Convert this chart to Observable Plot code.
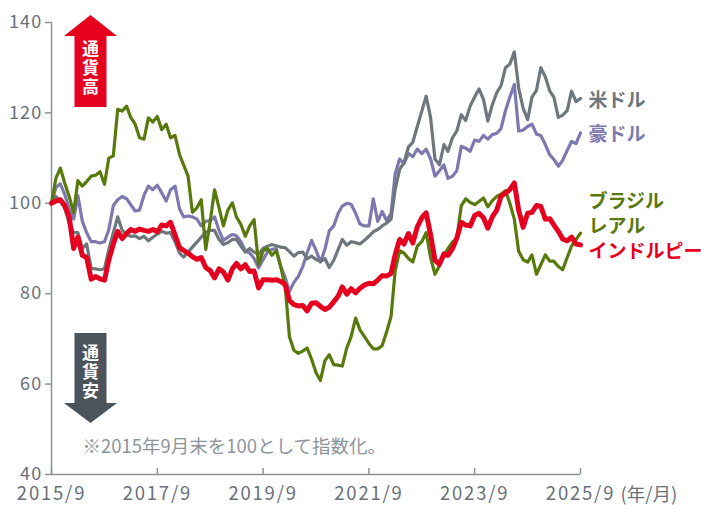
<!DOCTYPE html>
<html><head><meta charset="utf-8">
<script src="https://cdn.jsdelivr.net/npm/d3@7"></script>
<script src="https://cdn.jsdelivr.net/npm/@observablehq/plot@0.6"></script>
<style>
body{margin:0;background:#fff;}
#chart svg{display:block;}
</style></head><body><div id="chart"></div>
<script>
// ---- data (index: 2015/9 = 100, monthly end values) ----
const startMonth = "2015/9";
const usd = [100,101.5,100.5,99,95.5,93.5,93.5,90,91,85.6,
  85.5,85.3,85.5,89.8,93.5,97,94,93.2,92.7,92.8,
  92.2,92.7,91.7,92.5,93.2,93.8,93.4,93.5,91.5,89,
  88.1,89.2,90.3,91.4,92.5,93.6,94,94,92,90.9,
  91.3,92,92,90.5,89.2,90,89.2,88.8,90,90.5,
  90.9,90.6,90.3,90.2,89.3,88.3,89.1,89.2,87.7,88.3,
  87.6,87.1,87.8,85.8,87.4,89.8,92,90.7,91.5,91.3,
  91,91.8,92.7,93.7,94.2,95,95.6,96.5,103,107.5,
  109,112.5,113.5,117,120.4,123.7,118.9,109.8,108.5,113,
  111.5,114.5,116,119.6,118.3,121.5,123.5,125.3,123,118.2,
  121.8,124.5,126,130,130.8,133.5,125.5,121,118.5,123.5,
  125,130,128,124.8,123.5,119,119.5,120.5,124.8,122.5,
  123.2];
const aud = [100,103.5,104.3,102,98.8,96.5,101.7,96,93.5,91.5,
  91.5,91.2,91.5,94.2,99.5,100.8,101.5,101,99.7,98.3,
  98.5,101.8,103.8,103,104,102.3,100.5,103,103.8,98.8,
  97,97.2,97,96.5,95,96,96.2,97,94,91.8,
  92.5,93.1,92.8,91.5,89.5,89,87.8,85.7,87.5,89.2,
  89.8,90,86,83.6,80.5,82.5,83.8,86,89,91.8,
  89.6,87,89.8,93.9,95,97.8,99.4,100,99.8,97.8,
  95.4,95,95,101,96,98.2,96.2,97.8,106.5,109.8,
  108.8,111,110.3,112,111,112,109.8,106,107.2,108.5,
  105.5,106,107.2,112.6,112.2,111.5,114,113.7,115,114.2,
  115.2,115.5,116.5,120.5,123.5,126.3,116,116.2,117,117.5,
  115.3,115,113,110.7,109.7,108.2,109.5,111.7,113.7,113.2,
  115.6];
const brl = [100,105.5,107.8,104.5,101.5,98,105,103.8,104.8,106,
  106.2,107,104.2,110,110.5,120.8,120.4,121.5,119,117.5,
  114.5,114.2,118.9,118,119.2,116.3,117.5,114.5,115,110.8,
  108.5,106,98,99,100.8,89.8,96,103,99,95,
  98.5,100.1,97,95.3,92.7,95,96.4,86.4,89.5,90,
  88.5,89.5,86,81.5,70.5,67.5,66.8,67.3,68,65.5,
  62.5,60.8,65.2,66.5,64.3,64.2,64,68,70.5,74.6,
  72,70.5,69,67.8,67.8,68.5,71.5,75,85,89.5,
  89,87.8,87,90.5,91.5,93.5,88,84.3,86.2,88.5,
  90,91.4,92.3,99.5,101,100.2,99.7,100.4,101.2,99.2,
  100.6,101.5,102,102.8,100,96.5,89.4,87.5,87,88.6,
  84.3,86.4,88.6,87.2,87.2,86,85.3,88,90.5,92,
  93.4];
const inr = [100,100.5,100.8,99.5,97,90,92.5,88.5,88,83.2,
  83.8,83.3,83,87.5,91,93.8,92.2,93.3,94.2,93.8,
  94.3,94,93.8,94.2,93.7,95.2,95,95.8,93,90.2,
  89.6,89,88.2,87.6,88,85.8,85.1,83.5,85.5,84.8,
  83,85.5,86.7,85.5,86.4,84.9,85,81.3,83.1,83.1,
  83,83.1,82.7,82,78.5,77.6,77.3,77.4,76.2,77.9,
  78,77.2,76.5,77,78.2,79.5,81.5,79.9,81.1,80.2,
  81.2,81.9,82.3,82.2,83,84,83.9,84.5,88.6,92,
  91,93.3,91.2,94.8,96.8,97.9,93,87.4,86.5,88.8,
  88.5,90,92.3,95.8,95.2,95,97.3,97.8,96.8,94.5,
  97,98.5,101.5,102.3,103,104.5,98.5,94.7,97.8,98,
  99.5,99.3,96.5,96.6,95.2,93.8,92.1,91.7,92.5,91,
  90.8];
const seriesNames = ["豪ドル", "米ドル", "ブラジル\nレアル", "インドルピー"];
const seriesValues = [aud, usd, brl, inr];
const xTickLabels = ["2015/9", "2017/9", "2019/9", "2021/9", "2023/9", "2025/9"];
const yTicks = [40, 60, 80, 100, 120, 140];
const noteText = "※2015年9月末を100として指数化。";
const unitText = "(年/月)";
const upText = "通貨高";
const downText = "通貨安";

// ---- styles ----
const FONT = "'Noto Sans CJK JP', 'Noto Sans', sans-serif";
const AXIS = "#8b9297";
const TXT = "#68717a";
const NOTE = "#8d959b";
const RED = "#e50020";
const DARK = "#4b535b";
const styles = [
  {color: "#7d79ae", width: 3.2, dy: 0},
  {color: "#6e777c", width: 3.2, dy: 0.5},
  {color: "#58790b", width: 3.2, dy: -21},
  {color: RED, width: 5, dy: 4.5}
];

const parseYM = s => { const [y, m] = s.split("/").map(Number); return new Date(Date.UTC(y, m - 1, 1)); };
const start = parseYM(startMonth);
const dates = usd.map((_, i) => d3.utcMonth.offset(start, i));
const xTicks = xTickLabels.map(parseYM);

const lineMarks = [];
const labelMarks = [];
seriesValues.forEach((vals, k) => {
  const rows = vals.map((v, i) => ({date: dates[i], value: v}));
  const st = styles[k];
  lineMarks.push(Plot.line(rows, {x: "date", y: "value", stroke: st.color, strokeWidth: st.width, strokeLinejoin: "round", strokeLinecap: "round"}));
  labelMarks.push(Plot.text([rows[rows.length - 1]], {
    x: "date", y: "value", text: () => seriesNames[k], dx: 8, dy: st.dy,
    textAnchor: "start", lineAnchor: "middle", lineHeight: 1.35,
    fill: st.color, fontSize: 19, fontWeight: "bold"
  }));
});

function arrowMark(index, scales, values, dim) {
  const g = d3.create("svg:g");
  const cx = dim.marginLeft + 39.5;
  const hw = 26.5, sw = 16;
  const top = dim.marginTop;
  // up arrow
  const upTip = top - 7, upBase = top + 14, upEnd = top + 85;
  g.append("path").attr("fill", RED).attr("d",
    `M${cx},${upTip}L${cx + hw},${upBase}L${cx + sw},${upBase}L${cx + sw},${upEnd}L${cx - sw},${upEnd}L${cx - sw},${upBase}L${cx - hw},${upBase}Z`);
  g.append("text").text(upText).attr("x", cx).attr("y", top + 47)
    .attr("writing-mode", "vertical-rl").attr("text-anchor", "middle").attr("letter-spacing", "2px")
    .attr("fill", "#fff").attr("font-size", 17).attr("font-weight", "bold").attr("font-family", FONT);
  // down arrow
  const bottom = dim.height - dim.marginBottom;
  const dTop = bottom - 141, dBase = bottom - 71, dTip = bottom - 51;
  g.append("path").attr("fill", DARK).attr("d",
    `M${cx - sw},${dTop}L${cx + sw},${dTop}L${cx + sw},${dBase}L${cx + hw},${dBase}L${cx},${dTip}L${cx - hw},${dBase}L${cx - sw},${dBase}Z`);
  g.append("text").text(downText).attr("x", cx).attr("y", dTop + 40)
    .attr("writing-mode", "vertical-rl").attr("text-anchor", "middle").attr("letter-spacing", "2px")
    .attr("fill", "#fff").attr("font-size", 17).attr("font-weight", "bold").attr("font-family", FONT);
  return g.node();
}

const chart = Plot.plot({
  width: 701, height: 505,
  marginLeft: 51, marginRight: 121, marginTop: 22, marginBottom: 31,
  style: {fontFamily: FONT, background: "white", overflow: "visible"},
  x: {type: "utc", domain: [dates[0], dates[dates.length - 1]]},
  y: {domain: [40, 140]},
  marks: [
    Plot.axisY(yTicks, {tickSize: 6, tickPadding: 3, stroke: AXIS, strokeWidth: 1.5, fill: TXT, fontSize: 18, label: null}),
    Plot.axisX(xTicks, {tickSize: 6, dy: -6, stroke: AXIS, strokeWidth: 1.5, fill: "none", label: null}),
    Plot.axisX(xTicks, {tickSize: 0, tickPadding: 12, fill: TXT, fontSize: 18.5, label: null,
      tickFormat: d => `${d.getUTCFullYear()}/${d.getUTCMonth() + 1}`}),
    Plot.ruleY([40], {stroke: AXIS, strokeWidth: 1.5}),
    Plot.ruleX([dates[0]], {stroke: AXIS, strokeWidth: 1.5}),
    ...lineMarks,
    ...labelMarks,
    Plot.text([noteText], {frameAnchor: "bottom-left", dx: 31, dy: -27, textAnchor: "start", lineAnchor: "middle", fill: NOTE, fontSize: 18.5}),
    Plot.text([unitText], {frameAnchor: "bottom-right", dx: 40, dy: 20.5, textAnchor: "start", lineAnchor: "middle", fill: TXT, fontSize: 18.5}),
    arrowMark
  ]
});
d3.select(chart).selectAll('g[aria-label="x-axis tick label"] text').attr("letter-spacing", "1.8px");
d3.select(chart).selectAll('g[aria-label="y-axis tick label"] text').attr("letter-spacing", "1.2px");
document.getElementById("chart").append(chart);
</script>
</body></html>
